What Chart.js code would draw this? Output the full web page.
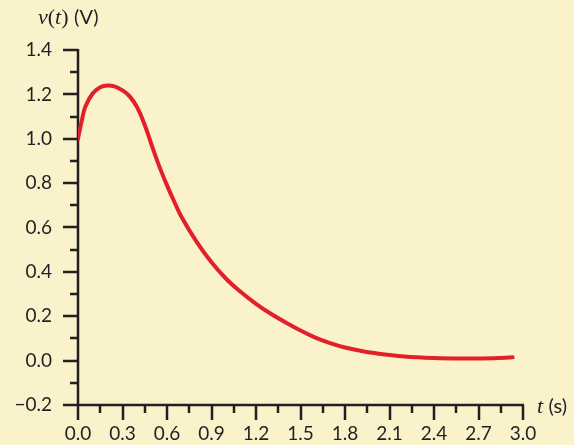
<!DOCTYPE html>
<html>
<head>
<meta charset="utf-8">
<script src="https://cdn.jsdelivr.net/npm/chart.js@4"></script>
<style>
  html, body { margin: 0; padding: 0; background: #faf2cb; }
  #wrap { width: 574px; height: 445px; position: relative; }
</style>
</head>
<body>
<div id="wrap"><canvas id="voltageChart"></canvas></div>
<script>
// --- values ---
const timeValues = [0, 0.025, 0.05, 0.1, 0.15, 0.2, 0.25, 0.3, 0.35, 0.4, 0.45, 0.5, 0.55, 0.6, 0.65, 0.7, 0.8,
  0.9, 1.0, 1.1, 1.2, 1.3, 1.4, 1.5, 1.6, 1.7, 1.8, 1.9, 2.0, 2.2, 2.4, 2.6, 2.8, 2.93];
const voltageValues = [1.0, 1.08, 1.145, 1.205, 1.232, 1.24, 1.235, 1.218, 1.19, 1.14, 1.062, 0.965, 0.872, 0.79, 0.715, 0.645, 0.535,
  0.443, 0.368, 0.308, 0.256, 0.211, 0.172, 0.136, 0.104, 0.079, 0.059, 0.045, 0.034, 0.019, 0.012, 0.010, 0.011, 0.015];

const xMajorTicks = [0, 0.3, 0.6, 0.9, 1.2, 1.5, 1.8, 2.1, 2.4, 2.7, 3.0];
const xMinorTicks = [0.15, 0.45, 0.75, 1.05, 1.35, 1.65, 1.95, 2.25, 2.55, 2.85];
const yMajorTicks = [-0.2, 0, 0.2, 0.4, 0.6, 0.8, 1.0, 1.2, 1.4];
const yMinorTicks = [-0.1, 0.1, 0.3, 0.5, 0.7, 0.9, 1.1, 1.3];

const INK = '#231f20';
const RED = '#e1202a';
const AXIS_W = 2.5;

const points = timeValues.map((t, i) => ({ x: t, y: voltageValues[i] }));

// axes with major/minor ticks + axis titles
const axesPlugin = {
  id: 'axesPlugin',
  beforeDatasetsDraw(chart) {
    const ctx = chart.ctx;
    const xs = chart.scales.x, ys = chart.scales.y;
    const x0 = xs.getPixelForValue(0);
    const y0 = ys.getPixelForValue(-0.2);
    ctx.save();
    ctx.strokeStyle = INK;
    ctx.lineWidth = AXIS_W;
    ctx.lineCap = 'butt';
    ctx.beginPath();
    // y axis
    ctx.moveTo(x0, ys.getPixelForValue(1.4) - 1);
    ctx.lineTo(x0, y0);
    // x axis
    ctx.moveTo(x0, y0);
    ctx.lineTo(xs.getPixelForValue(3.0) + 1, y0);
    yMajorTicks.forEach(v => {
      const p = Math.round(ys.getPixelForValue(v));
      ctx.moveTo(x0 - 15, p); ctx.lineTo(x0, p);
    });
    yMinorTicks.forEach(v => {
      const p = Math.round(ys.getPixelForValue(v));
      ctx.moveTo(x0 - 8, p); ctx.lineTo(x0, p);
    });
    xMajorTicks.forEach(v => {
      const p = Math.round(xs.getPixelForValue(v));
      ctx.moveTo(p, y0); ctx.lineTo(p, y0 + 15);
    });
    xMinorTicks.forEach(v => {
      const p = Math.round(xs.getPixelForValue(v));
      ctx.moveTo(p, y0); ctx.lineTo(p, y0 + 8);
    });
    ctx.stroke();

    // titles
    ctx.fillStyle = INK;
    ctx.textBaseline = 'alphabetic';
    ctx.textAlign = 'left';
    let x = 38, y = 24;
    const seg = (txt, font) => { ctx.font = font; ctx.fillText(txt, x, y); x += ctx.measureText(txt).width; };
    const serifI = 'italic 22px "Liberation Serif"';
    const serif = '22px "Liberation Serif"';
    const sans = '20px Lato';
    seg('v', serifI); seg('(', serif); seg('t', serifI); seg(')', serif); seg(' ', serif); seg('(V)', sans);

    x = 537; y = 413;
    seg('t', serifI); seg(' ', serif); seg('(s)', sans);
    ctx.restore();
  }
};

new Chart(document.getElementById('voltageChart'), {
  type: 'line',
  data: {
    datasets: [{
      data: points,
      borderColor: RED,
      borderWidth: 4,
      pointRadius: 0,
      fill: false,
      tension: 0.4,
      borderCapStyle: 'round'
    }]
  },
  options: {
    responsive: true,
    maintainAspectRatio: false,
    animation: false,
    layout: { padding: { top: 50, right: 51, left: 0, bottom: 0 } },
    plugins: { legend: { display: false }, tooltip: { enabled: false } },
    scales: {
      x: {
        type: 'linear',
        min: 0, max: 3,
        afterFit: s => { s.height = 40; },
        afterBuildTicks: s => { s.ticks = xMajorTicks.map(v => ({ value: v })); },
        grid: { display: false },
        border: { display: false },
        ticks: {
          color: INK,
          font: { family: 'Lato', size: 19 },
          padding: 9,
          maxRotation: 0,
          autoSkip: false,
          callback: v => v.toFixed(1)
        }
      },
      y: {
        min: -0.2, max: 1.4,
        afterFit: s => { s.width = 78; },
        afterBuildTicks: s => { s.ticks = yMajorTicks.map(v => ({ value: v })); },
        grid: { display: false },
        border: { display: false },
        ticks: {
          color: INK,
          font: { family: 'Lato', size: 19 },
          padding: 18,
          autoSkip: false,
          callback: v => (v < 0 ? '\u2212' + Math.abs(v).toFixed(1) : v.toFixed(1))
        }
      }
    }
  },
  plugins: [axesPlugin]
});
</script>
</body>
</html>
